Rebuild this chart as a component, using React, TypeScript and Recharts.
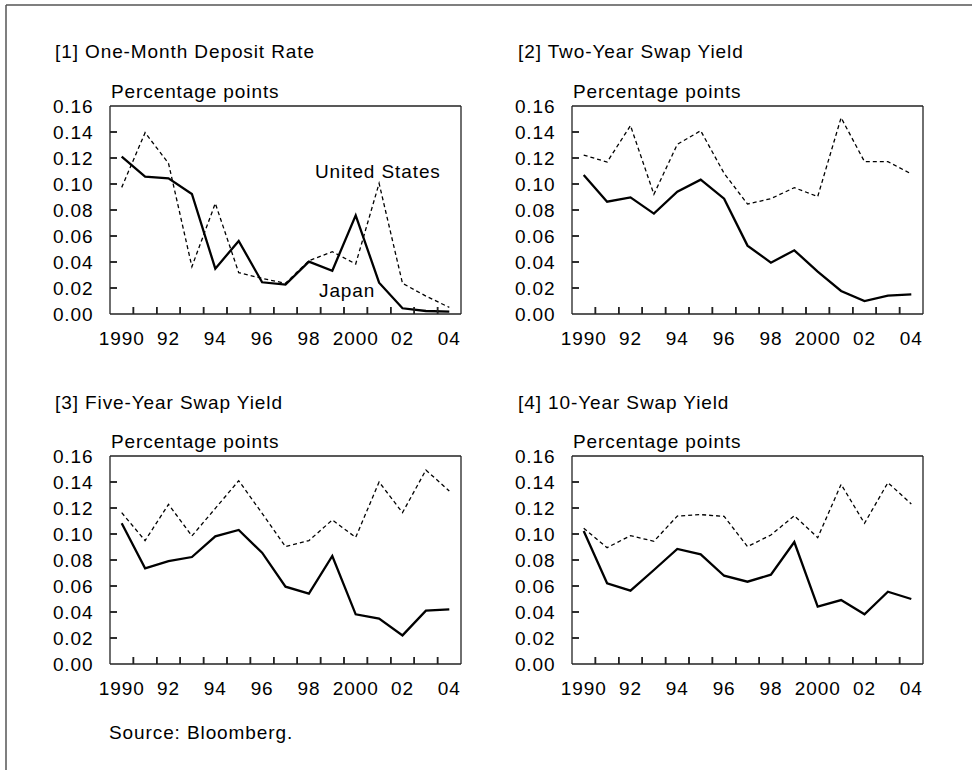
import React from "react";
import { ComposedChart, Line, Scatter, XAxis, YAxis, ReferenceLine } from "recharts";

const years = [1990, 1991, 1992, 1993, 1994, 1995, 1996, 1997, 1998, 1999, 2000, 2001, 2002, 2003, 2004];
const labelYears = [1990, 1992, 1994, 1996, 1998, 2000, 2002, 2004];
const labelTexts = ["1990", "92", "94", "96", "98", "2000", "02", "04"];
const tickYears = [1990.5, 1991.5, 1992.5, 1993.5, 1994.5, 1995.5, 1996.5, 1997.5, 1998.5, 1999.5, 2000.5, 2001.5, 2002.5, 2003.5];
const yTicks = [0, 0.02, 0.04, 0.06, 0.08, 0.1, 0.12, 0.14, 0.16];

const depositJapan = [0.121, 0.1056, 0.1044, 0.0923, 0.0349, 0.0562, 0.0244, 0.0226, 0.0403, 0.0333, 0.0759, 0.0241, 0.0044, 0.0023, 0.0018];
const depositUS = [0.0974, 0.1395, 0.1159, 0.0364, 0.0851, 0.0318, 0.0274, 0.0236, 0.041, 0.0479, 0.0385, 0.1005, 0.0236, 0.0138, 0.0051];
const swap2Japan = [0.1069, 0.0864, 0.0897, 0.0772, 0.0941, 0.1033, 0.0887, 0.0526, 0.0395, 0.049, 0.0326, 0.0177, 0.01, 0.0141, 0.0151];
const swap2US = [0.1223, 0.1169, 0.1449, 0.0921, 0.1305, 0.141, 0.1082, 0.0846, 0.0887, 0.0972, 0.0903, 0.151, 0.1172, 0.1172, 0.1077];
const swap5Japan = [0.1082, 0.0736, 0.0792, 0.0823, 0.0982, 0.1031, 0.0856, 0.0595, 0.0541, 0.0831, 0.0382, 0.0349, 0.022, 0.041, 0.042];
const swap5US = [0.1164, 0.0949, 0.1228, 0.0985, 0.1197, 0.141, 0.1159, 0.0903, 0.0949, 0.1108, 0.0974, 0.14, 0.1164, 0.1492, 0.1331];
const swap10Japan = [0.1023, 0.0621, 0.0564, 0.0723, 0.0885, 0.0844, 0.0679, 0.0633, 0.0687, 0.0938, 0.0441, 0.0492, 0.0382, 0.0556, 0.05];
const swap10US = [0.1044, 0.0895, 0.0987, 0.0944, 0.1138, 0.1149, 0.1136, 0.0903, 0.0992, 0.1141, 0.0972, 0.1382, 0.1082, 0.1395, 0.1231];

const FONT = "'Liberation Sans', Arial, Helvetica, sans-serif";
const FS = 19;
const LS = 0.9;
const AXIS_COLOR = "#222";
const X_MIN = 1989.5;
const X_MAX = 2004.5;
const Y_MAX = 0.16;
const X_TICK_LEN = 0.0054;
const Y_TICK_LEN = 0.3;

const yInnerTicks = yTicks.slice(1, -1);
const xTickPoints = tickYears.map((t) => ({ year: t, v: 0 }));
const yTickPoints = yInnerTicks.map((t) => ({ year: X_MIN, v: t }));

function XTick(props: any) {
  const { x, y, payload } = props;
  const v = payload.value as number;
  const idx = labelYears.indexOf(v);
  return (
    <text x={x} y={y + 31} textAnchor="middle" fontSize={FS} fontFamily={FONT} fill="#000" letterSpacing={LS}>
      {idx >= 0 ? labelTexts[idx] : ""}
    </text>
  );
}

function YTick(props: any) {
  const { x, y, payload } = props;
  const v = payload.value as number;
  return (
    <text x={x - 16.5} y={y + 6.8} textAnchor="end" fontSize={FS} fontFamily={FONT} fill="#000" letterSpacing={LS}>
      {v.toFixed(2)}
    </text>
  );
}

function XTickMark(p: any) {
  if (p.cx == null || p.cy == null) return <g />;
  return <rect x={p.cx - 0.75} y={p.cy - 7} width={1.5} height={7} fill={AXIS_COLOR} />;
}

function YTickMark(p: any) {
  if (p.cx == null || p.cy == null) return <g />;
  return <rect x={p.cx} y={p.cy - 0.75} width={7} height={1.5} fill={AXIS_COLOR} />;
}

const axisLineStyle = { stroke: AXIS_COLOR, strokeWidth: 1.3 };

function Panel({ left, top, japan, us }: { left: number; top: number; japan: number[]; us: number[] }) {
  const data = years.map((y, i) => ({ year: y, japan: japan[i], us: us[i] }));
  return (
    <div style={{ position: "absolute", left, top, width: 480, height: 260 }}>
      <ComposedChart width={480} height={260} data={data} margin={{ top: 9, right: 18, left: 0, bottom: 0 }}>
        <XAxis
          dataKey="year"
          type="number"
          domain={[X_MIN, X_MAX]}
          ticks={labelYears}
          tick={<XTick />}
          axisLine={axisLineStyle}
          tickLine={false}
          tickSize={0}
          tickMargin={0}
          height={42}
          interval={0}
          allowDataOverflow
        />
        <XAxis
          xAxisId="top"
          orientation="top"
          dataKey="year"
          type="number"
          domain={[X_MIN, X_MAX]}
          tick={false}
          tickLine={false}
          axisLine={axisLineStyle}
          height={1}
          allowDataOverflow
        />
        <YAxis
          type="number"
          domain={[0, Y_MAX]}
          ticks={yTicks}
          width={110}
          tick={<YTick />}
          tickSize={0}
          tickMargin={0}
          axisLine={axisLineStyle}
          tickLine={false}
          interval={0}
          allowDataOverflow
        />
        <YAxis
          yAxisId="right"
          orientation="right"
          type="number"
          domain={[0, Y_MAX]}
          width={1}
          tick={false}
          tickLine={false}
          axisLine={axisLineStyle}
        />
        {tickYears.map((t) => (
          <ReferenceLine
            key={`xt${t}`}
            segment={[{ x: t, y: 0 }, { x: t, y: X_TICK_LEN }]}
            stroke={AXIS_COLOR}
            strokeWidth={1.5}
            ifOverflow="visible"
          />
        ))}
        {yInnerTicks.map((t) => (
          <ReferenceLine
            key={`yt${t}`}
            segment={[{ x: X_MIN, y: t }, { x: X_MIN + Y_TICK_LEN, y: t }]}
            stroke={AXIS_COLOR}
            strokeWidth={1.5}
            ifOverflow="visible"
          />
        ))}
        <Scatter data={xTickPoints} dataKey="v" shape={<XTickMark />} isAnimationActive={false} />
        <Scatter data={yTickPoints} dataKey="v" shape={<YTickMark />} isAnimationActive={false} />
        <Line
          dataKey="us"
          type="linear"
          stroke="#000"
          strokeWidth={1.3}
          strokeDasharray="4 3"
          dot={false}
          isAnimationActive={false}
        />
        <Line
          dataKey="japan"
          type="linear"
          stroke="#000"
          strokeWidth={2.3}
          dot={false}
          isAnimationActive={false}
        />
      </ComposedChart>
    </div>
  );
}

const txt = { fontSize: FS, fontFamily: FONT, fill: "#000", letterSpacing: LS } as const;

export default function App() {
  return (
    <div style={{ position: "absolute", left: 0, top: 0, width: 972, height: 770, background: "#fff", overflow: "hidden" }}>
      <Panel left={0} top={96} japan={depositJapan} us={depositUS} />
      <Panel left={462} top={96} japan={swap2Japan} us={swap2US} />
      <Panel left={0} top={446} japan={swap5Japan} us={swap5US} />
      <Panel left={462} top={446} japan={swap10Japan} us={swap10US} />
      <svg width={972} height={770} style={{ position: "absolute", left: 0, top: 0, pointerEvents: "none" }}>
        <line x1={6} y1={5} x2={6} y2={770} stroke="#555" strokeWidth={1.5} />
        <line x1={6} y1={5} x2={972} y2={5} stroke="#555" strokeWidth={1.5} />
        <text x={55} y={58} {...txt}>[1] One-Month Deposit Rate</text>
        <text x={518} y={58} {...txt}>[2] Two-Year Swap Yield</text>
        <text x={55} y={409} {...txt}>[3] Five-Year Swap Yield</text>
        <text x={518} y={409} {...txt}>[4] 10-Year Swap Yield</text>
        <text x={111} y={98} {...txt}>Percentage points</text>
        <text x={573} y={98} {...txt}>Percentage points</text>
        <text x={111} y={448} {...txt}>Percentage points</text>
        <text x={573} y={448} {...txt}>Percentage points</text>
        <text x={315} y={178} {...txt}>United States</text>
        <text x={319} y={297} {...txt}>Japan</text>
        <text x={109} y={739} {...txt}>Source: Bloomberg.</text>
      </svg>
    </div>
  );
}
